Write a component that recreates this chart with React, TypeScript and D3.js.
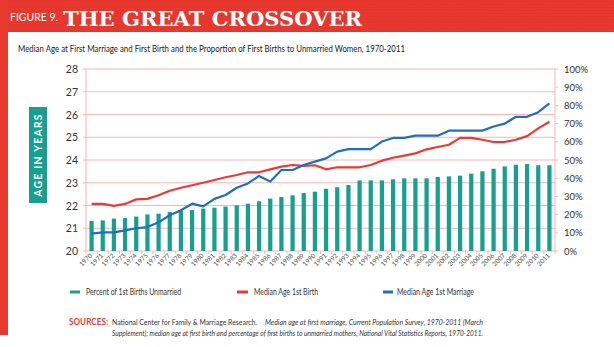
import React from "react";
import * as d3 from "d3";

const years = d3.range(1970, 2012).map(String);
const pctUnmarried = [
  16.5, 16.8, 17.8, 18.1, 18.9, 20.1, 20.5, 21.4, 22.0, 22.5,
  23.3, 23.8, 24.4, 25.1, 26.0, 27.3, 28.8, 29.7, 30.6, 31.9,
  32.6, 34.2, 35.0, 36.3, 38.8, 38.8, 38.8, 39.4, 39.9, 39.9,
  39.9, 40.7, 41.0, 41.4, 42.5, 43.8, 45.2, 46.5, 47.4, 47.8,
  47.1, 47.1,
];
const ageBirth = [
  22.07, 22.07, 21.98, 22.07, 22.27, 22.29, 22.45, 22.65, 22.78, 22.89,
  23.0, 23.12, 23.24, 23.34, 23.46, 23.46, 23.59, 23.71, 23.78, 23.74,
  23.77, 23.59, 23.68, 23.68, 23.68, 23.78, 23.97, 24.1, 24.19, 24.29,
  24.47, 24.57, 24.67, 24.97, 24.97, 24.89, 24.79, 24.79, 24.89, 25.05,
  25.39, 25.68,
];
const ageMarriage = [
  20.76, 20.82, 20.82, 20.91, 21.0, 21.05, 21.26, 21.57, 21.79, 22.08,
  21.96, 22.29, 22.46, 22.78, 22.97, 23.3, 23.05, 23.56, 23.56, 23.78,
  23.93, 24.07, 24.37, 24.48, 24.48, 24.48, 24.81, 24.97, 24.97, 25.07,
  25.07, 25.07, 25.29, 25.29, 25.29, 25.29, 25.47, 25.6, 25.9, 25.9,
  26.1, 26.49,
];
const leftTicks = [20, 21, 22, 23, 24, 25, 26, 27, 28];
const rightTicks = [0, 10, 20, 30, 40, 50, 60, 70, 80, 90, 100];

const W = 614, H = 347;
const X0 = 86, X1 = 555, Y0 = 251, Y1 = 69;
const TEAL = "#17a08f", RED = "#ec3a33", BLUE = "#1f6ec4", GRID = "#f6b7b5";
const FONT = "Lato, 'Noto Sans', sans-serif";

export default function App() {
  const x = d3.scaleBand<string>().domain(years).range([X0, X1]).paddingInner(0.62).paddingOuter(0.31);
  const cx = (y: string) => (x(y) as number) + x.bandwidth() / 2;
  const yAge = d3.scaleLinear().domain([20, 28]).range([Y0, Y1]);
  const yPct = d3.scaleLinear().domain([0, 100]).range([Y0, Y1]);
  const step = (X1 - X0) / years.length;

  const line = d3.line<number>().x((_, i) => cx(years[i])).y((d) => yAge(d));

  return (
    <svg width={W} height={H} style={{ position: "absolute", left: 0, top: 0, background: "#fff" }}>
      {/* header band */}
      <rect x={0} y={0} width={W} height={32} fill="#e8392f" />
      {d3.range(0, 32, 3).map((yy) => (
        <line key={yy} x1={0} x2={W} y1={yy + 1} y2={yy + 1.5} stroke="#d9302a" strokeWidth={0.6} opacity={0.5} />
      ))}
      <rect x={0} y={0} width={8} height={335} fill="#e8392f" />
      <text x={10} y={21} fill="#fff" fontFamily={FONT} fontSize={10.5} textLength={48} lengthAdjust="spacingAndGlyphs">FIGURE 9.</text>
      <text x={63} y={26} fill="#fff" fontFamily="'DejaVu Serif', serif" fontWeight="bold" fontSize={21} textLength={299} lengthAdjust="spacingAndGlyphs">THE GREAT CROSSOVER</text>

      <text x={18} y={52} fill="#222" fontFamily={FONT} fontSize={10} textLength={387} lengthAdjust="spacingAndGlyphs">
        Median Age at First Marriage and First Birth and the Proportion of First Births to Unmarried Women, 1970-2011
      </text>

      {/* grid */}
      {leftTicks.map((t) => (
        <line key={t} x1={X0} x2={X1} y1={yAge(t)} y2={yAge(t)} stroke={GRID} strokeWidth={1} />
      ))}
      <line x1={X0} x2={X0} y1={Y1} y2={Y0} stroke={GRID} />
      <line x1={X1} x2={X1} y1={Y1} y2={Y0} stroke={GRID} />
      {d3.range(years.length + 1).map((i) => (
        <line key={i} x1={X0 + i * step} x2={X0 + i * step} y1={Y0} y2={Y0 + 3} stroke={GRID} />
      ))}
      {leftTicks.map((t) => (
        <line key={"lt" + t} x1={X0 - 3} x2={X0} y1={yAge(t)} y2={yAge(t)} stroke={GRID} />
      ))}
      {rightTicks.map((t) => (
        <line key={"rt" + t} x1={X1} x2={X1 + 3} y1={yPct(t)} y2={yPct(t)} stroke={GRID} />
      ))}

      {/* bars */}
      {pctUnmarried.map((v, i) => (
        <rect key={i} x={x(years[i])} y={yPct(v)} width={x.bandwidth()} height={Y0 - yPct(v)} fill={TEAL} />
      ))}

      <path d={line(ageBirth) || ""} fill="none" stroke={RED} strokeWidth={2.2} strokeLinejoin="round" />
      <path d={line(ageMarriage) || ""} fill="none" stroke={BLUE} strokeWidth={2.2} strokeLinejoin="round" />

      {/* axis labels */}
      {leftTicks.map((t) => (
        <text key={"l" + t} x={78} y={yAge(t) + 4} textAnchor="end" fill="#333" fontFamily={FONT} fontSize={10.5}>{t}</text>
      ))}
      {rightTicks.map((t) => (
        <text key={"r" + t} x={564} y={yPct(t) + 3.5} fill="#333" fontFamily={FONT} fontSize={9.5}>{t}%</text>
      ))}
      {years.map((y) => (
        <text key={y} transform={`translate(${cx(y) + 1},${Y0 + 5}) rotate(-45)`} textAnchor="end" fill="#555" fontFamily={FONT} fontSize={6.5}>{y}</text>
      ))}

      {/* y label box */}
      <rect x={29} y={107} width={18} height={96} fill={TEAL} />
      <text transform="translate(42,155) rotate(-90)" textAnchor="middle" fill="#fff" fontFamily={FONT} fontWeight="bold" fontSize={10.5} letterSpacing={1.2}>AGE IN YEARS</text>

      {/* legend */}
      <rect x={70} y={290.5} width={10} height={3} fill={TEAL} />
      <text x={86} y={295} fill="#333" fontFamily={FONT} fontSize={8.5} textLength={95} lengthAdjust="spacingAndGlyphs">Percent of 1st Births Unmarried</text>
      <rect x={237} y={290.5} width={11} height={3} fill={RED} />
      <text x={254} y={295} fill="#333" fontFamily={FONT} fontSize={8.5} textLength={64} lengthAdjust="spacingAndGlyphs">Median Age 1st Birth</text>
      <rect x={383} y={290.5} width={10} height={3} fill={BLUE} />
      <text x={397} y={295} fill="#333" fontFamily={FONT} fontSize={8.5} textLength={77} lengthAdjust="spacingAndGlyphs">Median Age 1st Marriage</text>

      {/* sources */}
      <text x={69} y={325} fill={RED} fontFamily={FONT} fontWeight="bold" fontSize={9.5} textLength={39} lengthAdjust="spacingAndGlyphs">SOURCES:</text>
      <text x={112} y={325} fill="#333" fontFamily={FONT} fontSize={8} textLength={145} lengthAdjust="spacingAndGlyphs">
        National Center for Family &amp; Marriage Research.
      </text>
      <text x={265} y={325} fill="#333" fontFamily={FONT} fontSize={8} fontStyle="italic" textLength={218} lengthAdjust="spacingAndGlyphs">
        Median age at first marriage, Current Population Survey, 1970-2011 (March
      </text>
      <text x={112} y={335.5} fill="#333" fontFamily={FONT} fontSize={8} fontStyle="italic" textLength={371} lengthAdjust="spacingAndGlyphs">
        Supplement); median age at first birth and percentage of first births to unmarried mothers, National Vital Statistics Reports, 1970-2011.
      </text>
    </svg>
  );
}
